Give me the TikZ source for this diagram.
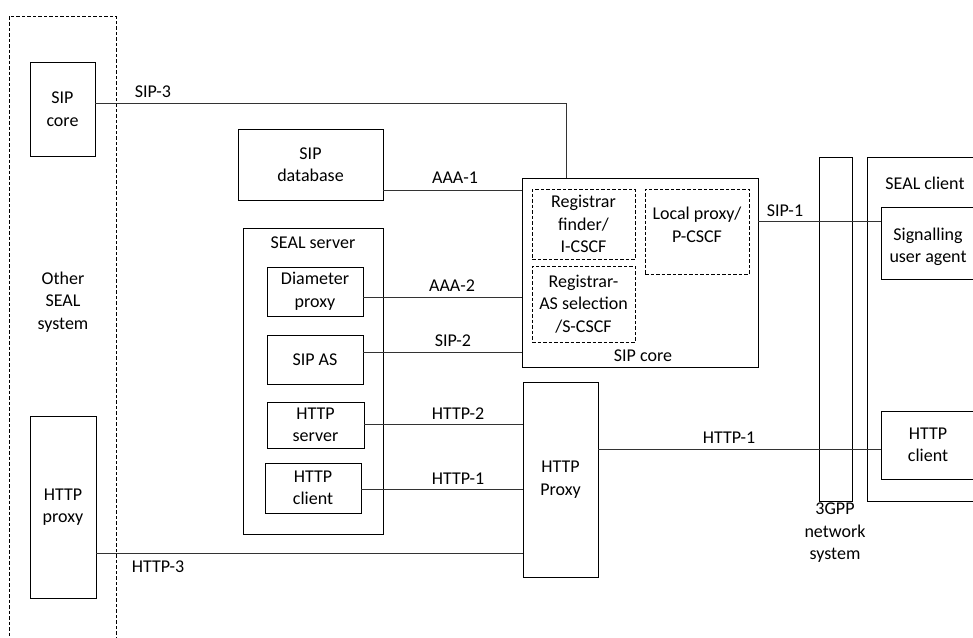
\documentclass[tikz,border=0pt]{standalone}
\usepackage{fontspec}
\setmainfont{Carlito}
\usepackage{tikz}

\begin{document}
\begin{tikzpicture}[x=1pt, y=-1pt, line width=0.9pt,
    every node/.style={font=\fontsize{18}{22.5}\selectfont, align=center, inner sep=0pt},
    box/.style={draw},
    dbox/.style={draw, dash pattern=on 3.5pt off 2pt},
    link/.style={draw, black!80}]

    \useasboundingbox (0, 0) rectangle (973, 637);

    \node [dbox, minimum width=107, minimum height=660] (other) at (62.5, 346) {};
    \node (othertxt) at (63, 302) {Other\\SEAL\\system};
    \node [box, fill=white, minimum width=65, minimum height=94] (sipcoreL) at (62.5, 109) {SIP\\core};
    \node [box, fill=white, minimum width=66, minimum height=182] (httpproxyL) at (63, 507) {HTTP\\proxy};

    \node [box, minimum width=145, minimum height=71] (sipdb) at (310.5, 164.5) {SIP\\database};

    \node [box, minimum width=140, minimum height=306] (sealsrv) at (313, 381) {};
    \node (sealsrvtxt) at (313, 243) {SEAL server};
    \node [box, minimum width=96, minimum height=49] (diam) at (315, 291.5) {Diameter\\proxy};
    \node [box, minimum width=96, minimum height=49] (sipas) at (315, 359.5) {SIP AS};
    \node [box, minimum width=97, minimum height=46] (httpsrv) at (315.5, 425) {HTTP\\server};
    \node [box, minimum width=96, minimum height=50] (httpcli) at (313, 488) {HTTP\\client};

    \node [box, minimum width=236, minimum height=189] (sipcore) at (640, 272.5) {};
    \node (sipcoretxt) at (643, 356) {SIP core};
    \node [dbox, minimum width=103, minimum height=70] (regfind) at (583.5, 224) {Registrar\\finder/\\I-CSCF};
    \node [dbox, minimum width=103, minimum height=76] (regas) at (583.5, 304) {Registrar-\\AS selection\\/S-CSCF};
    \node [dbox, minimum width=104, minimum height=85, text depth=14] (localpx) at (697, 231.5) {Local proxy/\\P-CSCF};

    \node [box, minimum width=75, minimum height=195] (httpprx) at (560.5, 479.5) {HTTP\\Proxy};

    \node [box, minimum width=33, minimum height=344] (net) at (835.5, 329) {};
    \node (nettxt) at (835, 533) {3GPP\\network\\system};

    \node [box, minimum width=133, minimum height=344] (sealcli) at (933.5, 329) {};
    \node (sealclitxt) at (925, 183) {SEAL client};
    \node [box, minimum width=119, minimum height=72] (sua) at (940.5, 243) {};
    \node (suatxt) at (928, 247) {Signalling\\user agent};
    \node [box, minimum width=119, minimum height=68] (httpcliR) at (940.5, 445) {};
    \node (httpcliRtxt) at (928, 445) {HTTP\\client};

    \coordinate (s3) at (566, 103);
    \draw [link] (sipcoreL.east |- s3) -- (s3) -- (s3 |- sipcore.north);
    \draw [link] ([yshift=-25.5]sipdb.east) -- ([yshift=-25.5]sipdb.east -| sipcore.west);
    \draw [link] ([yshift=-5.5]diam.east) -- ([yshift=-5.5]diam.east -| sipcore.west);
    \draw [link] ([yshift=7.5]sipas.east) -- ([yshift=7.5]sipas.east -| sipcore.west);
    \draw [link] ([yshift=1]httpsrv.east) -- ([yshift=1]httpsrv.east -| httpprx.west);
    \draw [link] ([yshift=-1]httpcli.east) -- ([yshift=-1]httpcli.east -| httpprx.west);
    \draw [link] ([yshift=-46]httpproxyL.east) -- ([yshift=-46]httpproxyL.east -| httpprx.west);
    \draw [link] ([yshift=30.5]httpprx.east) -- ([yshift=30.5]httpprx.east -| httpcliR.west);
    \draw [link] ([yshift=51.5]sipcore.east) -- ([yshift=51.5]sipcore.east -| sua.west);

    \node (lsip3) at (153, 92) {SIP-3};
    \node (laaa1) at (455, 178) {AAA-1};
    \node (laaa2) at (452, 286) {AAA-2};
    \node (lsip2) at (453, 341) {SIP-2};
    \node (lhttp2) at (458, 414) {HTTP-2};
    \node (lhttp1) at (458, 479) {HTTP-1};
    \node (lhttp3) at (158, 567) {HTTP-3};
    \node (lhttp1r) at (729, 438) {HTTP-1};
    \node (lsip1) at (785, 211) {SIP-1};

  \end{tikzpicture}
\end{document}
